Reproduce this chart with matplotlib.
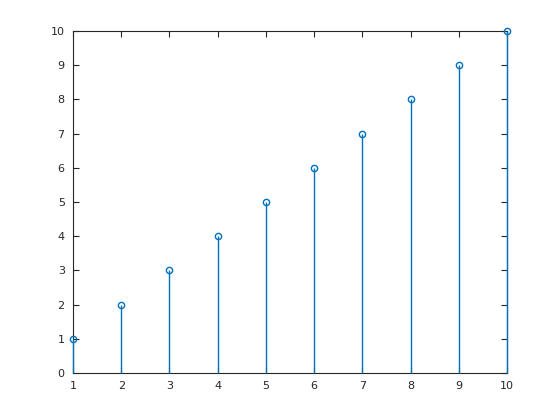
import matplotlib
matplotlib.use("Agg")
import matplotlib.pyplot as plt

x = [1, 2, 3, 4, 5, 6, 7, 8, 9, 10]
y = [1, 2, 3, 4, 5, 6, 7, 8, 9, 10]

blue = "#0072BD"
dark = "#262626"

fig = plt.figure(figsize=(5.6, 4.2), dpi=100)
ax = fig.add_axes([0.1304, 0.1119, 0.775, 0.8143])

markers, stems, base = ax.stem(x, y, basefmt=" ")
plt.setp(stems, color=blue, linewidth=1.0, clip_on=False, zorder=3)
plt.setp(markers, marker="o", markersize=4.5, markerfacecolor="none",
         markeredgecolor=blue, markeredgewidth=1.0, clip_on=False, zorder=4)

ax.set_xlim(1, 10)
ax.set_ylim(0, 10)
ax.set_xticks(range(1, 11))
ax.set_yticks(range(0, 11))

for s in ax.spines.values():
    s.set_color(dark)
    s.set_linewidth(0.8)
ax.tick_params(direction="in", top=True, right=True, length=4, width=0.8,
               colors=dark, labelsize=8, pad=6)

fig.savefig("out.png", dpi=100)
